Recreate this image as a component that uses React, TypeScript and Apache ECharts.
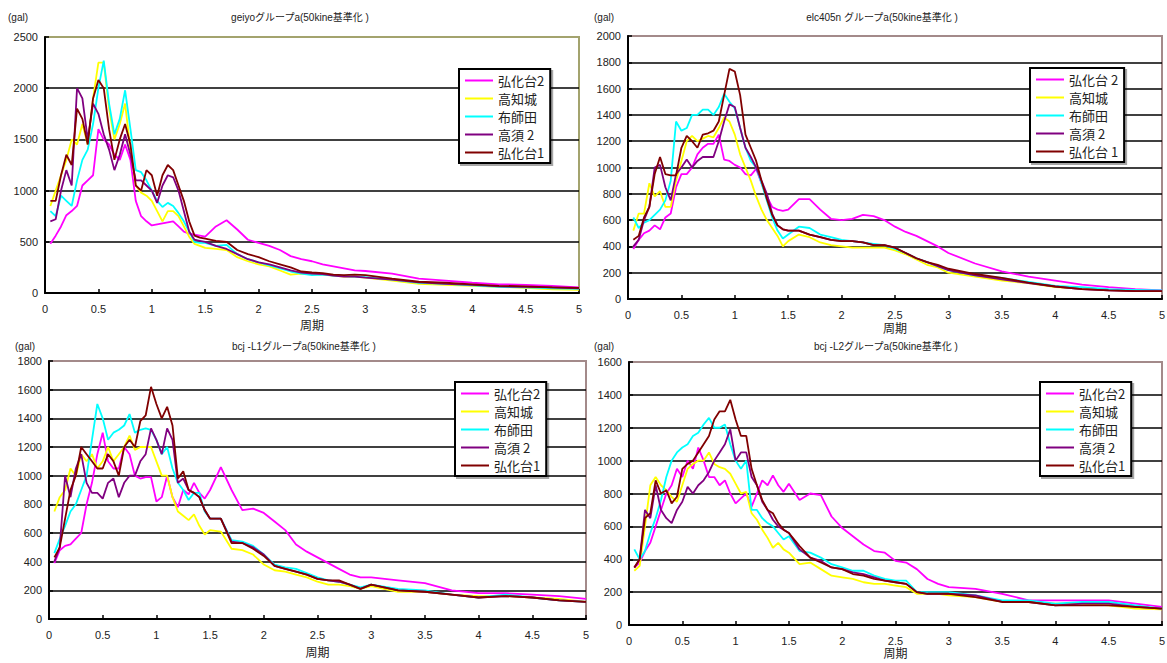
import React, { useEffect, useRef } from "react";
import * as echarts from "echarts";

// Period axis samples (s)
const periods = [
  0.05, 0.1, 0.15, 0.2, 0.25, 0.3, 0.35, 0.4, 0.45, 0.5, 0.55, 0.6, 0.65, 0.7, 0.75, 0.8, 0.85, 0.9, 0.95, 1.0,
  1.05, 1.1, 1.15, 1.2, 1.25, 1.3, 1.35, 1.4, 1.45, 1.5,
  1.6, 1.7, 1.8, 1.9, 2.0, 2.1, 2.2, 2.3, 2.4, 2.5, 2.6, 2.7, 2.8, 2.9, 3.0,
  3.25, 3.5, 3.75, 4.0, 4.25, 4.5, 4.75, 5.0,
];

const seriesNames = ["弘化台2", "高知城", "布師田", "高須 2", "弘化台1"];
const seriesColors = ["#ff00ff", "#ffff00", "#00ffff", "#800080", "#800000"];

const chartTitles = [
  "geiyoグループa(50kine基準化 )",
  "elc405n グループa(50kine基準化 )",
  "bcj -L1グループa(50kine基準化 )",
  "bcj -L2グループa(50kine基準化 )",
];
const yMax = [2500, 2000, 1800, 1600];
const yStep = [500, 200, 200, 200];

// geiyo
const geiyoKoukadai2 = [480,560,650,760,800,850,1050,1100,1150,1600,1500,1450,1350,1300,1450,1300,900,750,700,660,670,680,690,700,650,600,580,570,560,550,650,710,620,520,490,460,420,360,330,310,280,260,240,220,215,190,140,120,100,85,80,70,55];
const geiyoKochijo = [850,1000,1150,1300,1500,1450,1650,1450,1900,2250,2250,1800,1500,1650,1850,1400,1050,980,950,900,800,700,800,800,750,650,550,480,460,440,430,420,350,310,280,260,220,180,190,185,180,170,160,160,150,120,90,80,70,60,50,35,30];
const geiyoNunoshida = [800,750,950,900,850,1100,1300,1400,1650,2000,2270,1850,1550,1700,1980,1600,1200,1180,1100,1000,900,840,880,850,780,700,600,500,490,490,460,470,380,330,300,270,240,210,190,175,180,170,165,160,155,130,100,90,75,60,55,45,40];
const geiyoTakasu2 = [700,720,1000,1200,1050,2000,1900,1500,1850,1750,1550,1400,1200,1350,1550,1350,1100,1100,1050,1000,880,1050,1150,1130,1000,800,600,520,510,500,460,430,380,330,300,280,250,220,200,190,185,170,160,160,150,130,105,90,80,65,60,55,45];
const geiyoKoukadai1 = [900,900,1150,1350,1250,1800,1700,1450,1900,2080,2000,1600,1300,1500,1650,1450,1050,1000,1200,1150,950,1150,1250,1200,1050,900,700,560,540,530,510,500,420,380,350,310,280,250,210,200,195,180,175,180,175,140,110,100,85,70,65,55,50];

// elc405n
const elcKoukadai2 = [380,450,500,520,560,530,620,650,850,950,950,1000,1100,1150,1180,1180,1250,1060,1050,1020,1000,950,940,990,880,780,700,680,670,680,760,760,680,610,600,610,640,630,600,550,510,480,440,400,350,270,210,170,140,110,90,75,65];
const elcKochijo = [520,650,650,880,780,820,700,700,900,1050,1200,1240,1200,1220,1240,1230,1300,1380,1350,1250,1100,1000,900,780,680,600,540,480,400,440,490,470,430,410,400,390,390,390,390,370,340,300,260,240,200,170,140,120,90,80,70,60,60];
const elcNunoshida = [620,540,580,600,640,680,750,900,1350,1280,1300,1400,1400,1440,1440,1400,1460,1560,1500,1450,1300,1150,1050,1000,880,750,620,520,460,490,550,540,490,470,450,440,430,420,410,380,350,310,280,250,220,180,160,130,100,90,75,70,65];
const elcTakasu2 = [400,450,600,700,1000,1020,850,750,950,1000,1060,1000,1050,1080,1080,1080,1200,1350,1480,1460,1300,1150,1080,1000,900,800,650,560,530,520,520,490,470,450,440,440,430,410,410,390,350,310,280,250,220,180,150,120,95,75,65,60,60];
const elcKoukadai1 = [450,480,620,700,950,1080,950,940,940,1150,1240,1200,1150,1250,1260,1280,1350,1550,1750,1730,1550,1250,1150,1050,900,760,640,560,530,520,520,490,470,450,440,440,430,410,410,390,350,310,280,260,230,190,160,125,95,75,65,60,60];

// bcj-L1
const l1Koukadai2 = [390,480,510,520,560,600,800,950,1150,1300,1100,1050,1050,1200,1150,1000,980,990,990,820,850,1000,850,780,900,870,950,880,840,900,1060,900,760,770,740,680,620,520,470,430,390,350,310,290,290,270,250,200,180,180,170,160,140];
const l1Kochijo = [750,850,900,1050,1000,1150,1100,1150,1050,1100,1200,1100,1150,1200,1280,1180,1200,1200,1200,1100,1000,1000,850,750,720,690,730,650,590,620,610,490,480,450,380,340,330,310,290,260,240,240,230,210,230,190,190,170,160,160,150,140,120];
const l1Nunoshida = [460,560,650,750,800,900,1000,1250,1500,1400,1250,1300,1320,1350,1430,1300,1320,1330,1320,1250,1150,1200,1050,950,900,830,880,880,750,700,700,550,540,510,450,380,360,350,320,290,270,260,240,220,240,210,200,170,150,170,150,130,120];
const l1Takasu2 = [400,500,1000,850,1050,1150,950,880,880,840,950,980,850,950,1000,1000,1100,1150,1330,1250,1150,1330,1250,950,980,900,880,850,760,700,700,540,530,500,450,370,350,330,310,280,270,260,240,210,240,200,190,170,150,160,150,130,120];
const l1Koukadai1 = [430,500,700,900,1000,1200,1150,1100,1050,1050,1150,1100,1000,1200,1250,1200,1380,1420,1620,1500,1400,1480,1350,980,1030,900,880,850,760,700,700,530,530,490,440,370,350,330,310,280,270,270,240,210,240,200,190,170,150,160,150,130,120];

// bcj-L2
const l2Koukadai2 = [350,380,450,500,600,700,800,850,950,900,1000,950,1080,1000,900,900,850,880,800,740,770,800,720,800,880,850,910,850,810,860,760,800,790,660,590,540,490,450,440,390,380,340,280,250,230,220,190,150,150,150,150,130,110];
const l2Kochijo = [330,360,600,850,900,850,820,780,750,850,950,980,1000,1000,1050,980,960,950,920,860,800,810,680,640,580,530,470,500,460,440,370,380,340,300,290,280,260,250,250,240,230,190,190,190,180,170,140,140,130,130,120,100,95];
const l2Nunoshida = [460,400,450,560,650,760,900,1000,1050,1080,1100,1150,1170,1220,1260,1200,1200,1220,1100,1000,950,1000,700,700,650,620,600,560,520,540,450,440,410,370,350,330,330,300,280,270,270,200,200,200,200,180,150,150,130,140,140,120,100];
const l2Takasu2 = [350,400,700,650,850,700,650,620,700,750,840,800,850,880,930,1000,1050,1100,1190,1000,1050,1050,900,850,750,700,640,600,580,560,460,410,390,350,340,320,310,290,270,260,250,200,190,190,190,180,140,140,120,130,130,110,100];
const l2Koukadai1 = [350,400,650,680,880,800,820,740,780,950,980,1000,1050,1100,1150,1250,1300,1300,1370,1250,1150,1150,950,850,760,700,680,620,580,560,480,410,380,350,340,310,300,280,270,260,250,200,190,190,190,170,140,140,120,120,120,110,100];

const chartData = [
  [geiyoKoukadai2, geiyoKochijo, geiyoNunoshida, geiyoTakasu2, geiyoKoukadai1],
  [elcKoukadai2, elcKochijo, elcNunoshida, elcTakasu2, elcKoukadai1],
  [l1Koukadai2, l1Kochijo, l1Nunoshida, l1Takasu2, l1Koukadai1],
  [l2Koukadai2, l2Kochijo, l2Nunoshida, l2Takasu2, l2Koukadai1],
];

// layout (pixels)
const grids = [
  { left: 45, top: 37, width: 534, height: 256 },
  { left: 628, top: 36, width: 534, height: 263 },
  { left: 49, top: 361, width: 537, height: 258 },
  { left: 629, top: 362, width: 533, height: 263 },
];
const borderColors = ["#a3a36e", "#a38a8a", "#a38a8a", "#a38a8a"];
const nameGaps = [27, 24, 28, 23];
const legendPos = [
  { left: 459, top: 69 },
  { left: 1030, top: 68 },
  { left: 455, top: 382 },
  { left: 1040, top: 382 },
];
const titlePos = [
  { x: 300, y: 17 },
  { x: 882, y: 17 },
  { x: 304, y: 346 },
  { x: 886, y: 346 },
];
const galPos = [
  { x: 8, y: 17 },
  { x: 594, y: 17 },
  { x: 15, y: 346 },
  { x: 594, y: 346 },
];

const FONT = "'Liberation Sans', Arial, 'Noto Sans CJK JP', sans-serif";

export default function App() {
  const ref = useRef<HTMLDivElement>(null);

  useEffect(() => {
    if (!ref.current) return;
    const chart = echarts.init(ref.current, undefined, { renderer: "svg" });

    const gridOpts = grids.map((g, i) => ({
      left: g.left,
      top: g.top,
      width: g.width,
      height: g.height,
      show: true,
      backgroundColor: "#ffffff",
      borderColor: borderColors[i],
      borderWidth: 2,
      containLabel: false,
      outerBoundsMode: "none",
    }));

    const xAxes = grids.map((_, i) => ({
      type: "value",
      gridIndex: i,
      min: 0,
      max: 5,
      interval: 0.5,
      name: "周期",
      nameLocation: "middle",
      nameGap: nameGaps[i],
      nameTextStyle: { fontSize: 12, color: "#222", fontFamily: FONT },
      axisLine: { show: true, onZero: false, lineStyle: { color: "#000", width: 2 } },
      axisTick: { show: true, inside: true, length: 4, lineStyle: { color: "#000", width: 1.5 } },
      axisLabel: { fontSize: 11, color: "#222", margin: 10, fontFamily: FONT, formatter: (v: number) => String(v) },
      splitLine: { show: false },
    }));

    const yAxes = grids.map((_, i) => ({
      type: "value",
      gridIndex: i,
      min: 0,
      max: yMax[i],
      interval: yStep[i],
      axisLine: { show: true, onZero: false, lineStyle: { color: "#000", width: 2 } },
      axisTick: { show: true, inside: true, length: 4, lineStyle: { color: "#000", width: 1.5 } },
      axisLabel: { fontSize: 11, color: "#222", margin: 7, fontFamily: FONT, formatter: (v: number) => String(v) },
      splitLine: {
        show: true,
        showMinLine: false,
        showMaxLine: false,
        lineStyle: { color: "#000", width: 1.6 },
      },
    }));

    const series: any[] = [];
    chartData.forEach((group, gi) => {
      group.forEach((vals, si) => {
        series.push({
          type: "line",
          name: seriesNames[si],
          xAxisIndex: gi,
          yAxisIndex: gi,
          data: periods.map((p, k) => [p, vals[k]]),
          showSymbol: false,
          symbol: "none",
          lineStyle: { color: seriesColors[si], width: 1.8 },
          itemStyle: { color: seriesColors[si] },
          z: 2 + si,
        });
      });
    });

    const legends = legendPos.map((p, i) => ({
      left: p.left,
      top: p.top,
      orient: "vertical",
      data: seriesNames,
      icon: "rect",
      itemWidth: 28,
      itemHeight: 2,
      itemGap: 5,
      padding: [5, 6, 4, 6],
      backgroundColor: "#ffffff",
      borderColor: "#000",
      borderWidth: 2,
      shadowColor: "rgba(0,0,0,0.35)",
      shadowOffsetX: 2,
      shadowOffsetY: 2,
      shadowBlur: 0,
      selectedMode: false,
      textStyle: { fontSize: 13, color: "#222", fontFamily: "'Noto Sans CJK JP', sans-serif" },
      formatter: i === 1 ? (n: string) => n.replace(/弘化台(\d)/, "弘化台 $1") : (n: string) => n,
    }));

    const graphics: any[] = [];
    chartTitles.forEach((t, i) => {
      graphics.push({
        type: "text",
        x: titlePos[i].x,
        y: titlePos[i].y,
        style: {
          text: t,
          fill: "#222",
          font: `10px 'Liberation Sans', Arial, 'Noto Sans CJK JP', sans-serif`,
          textAlign: "center",
          textVerticalAlign: "middle",
        },
      });
      graphics.push({
        type: "text",
        x: galPos[i].x,
        y: galPos[i].y,
        style: {
          text: "(gal)",
          fill: "#222",
          font: `10px 'Liberation Sans', Arial, sans-serif`,
          textAlign: "left",
          textVerticalAlign: "middle",
        },
      });
    });

    chart.setOption({
      animation: false,
      backgroundColor: "#ffffff",
      grid: gridOpts,
      xAxis: xAxes,
      yAxis: yAxes,
      legend: legends,
      series,
      graphic: graphics,
    });

    return () => chart.dispose();
  }, []);

  return (
    <div
      ref={ref}
      style={{ position: "absolute", left: 0, top: 0, width: 1167, height: 663 }}
    />
  );
}
